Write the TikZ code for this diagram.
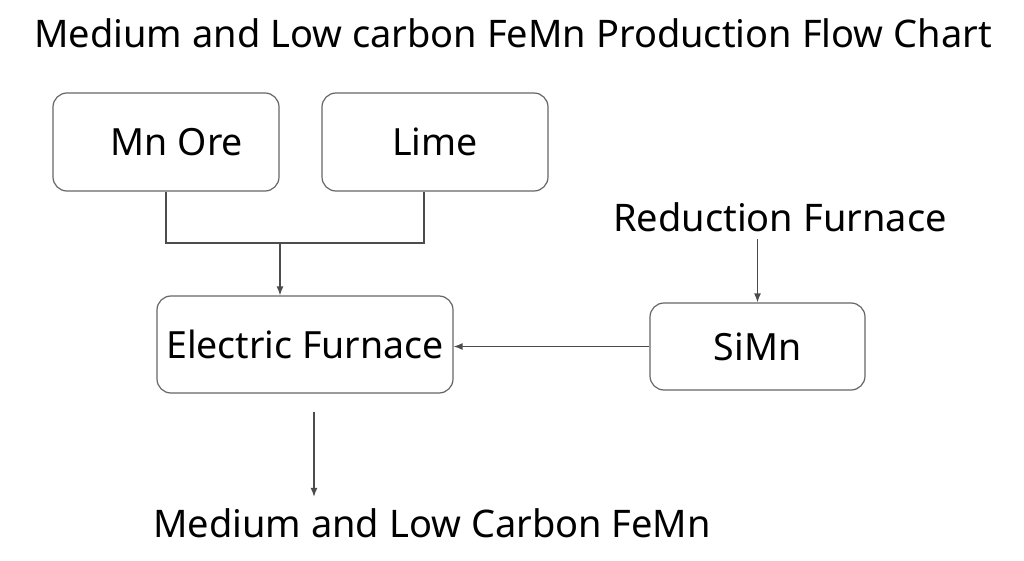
\documentclass[tikz,border=0pt]{standalone}
\usepackage{fontspec}
\setmainfont{Noto Sans}
\usetikzlibrary{arrows.meta}
\begin{document}
\begin{tikzpicture}[x=1pt,y=-1pt,>={Latex[length=9pt,width=7pt]},
  box/.style={draw=black!60, line width=1.2pt, rounded corners=14pt, inner sep=0pt, font=\fontsize{37.5}{44}\selectfont},
  lab/.style={font=\fontsize{38}{44}\selectfont},
  link/.style={draw=black!70, line width=1.3pt}]
\useasboundingbox (0,0) rectangle (1024,561);

% flow chart
\node[lab] (title) at (513,33) {Medium and Low carbon FeMn Production Flow Chart};

\node[box, minimum width=226pt, minimum height=98pt] (ore) at (166,142) {\hspace*{22pt}Mn Ore};
\node[box, minimum width=226pt, minimum height=98pt] (lime) at (435,142) {Lime};
\node[box, minimum width=296pt, minimum height=97pt] (furnace) at (305,344.5) {Electric Furnace};
\node[box, minimum width=215pt, minimum height=87pt] (simn) at (757.5,346.5) {SiMn};
\node[lab] (reduction) at (780,217) {Reduction Furnace};
\node[lab] (product) at (432,523) {Medium and Low Carbon FeMn};

\coordinate (join) at (280,243);
\coordinate (out) at (314,412);

\draw[link] (ore.south) |- (join) -| ([xshift=-11pt]lime.south);
\draw[link,->] (join) -- (join |- furnace.north);
\draw[link,->,shorten <=4pt] (simn.north |- reduction.south) -- (simn.north);
\draw[link,->] (simn.west) -- (simn.west -| furnace.east);
\draw[link,->,shorten >=8pt] (out) -- (out |- product.north);
\end{tikzpicture}
\end{document}
